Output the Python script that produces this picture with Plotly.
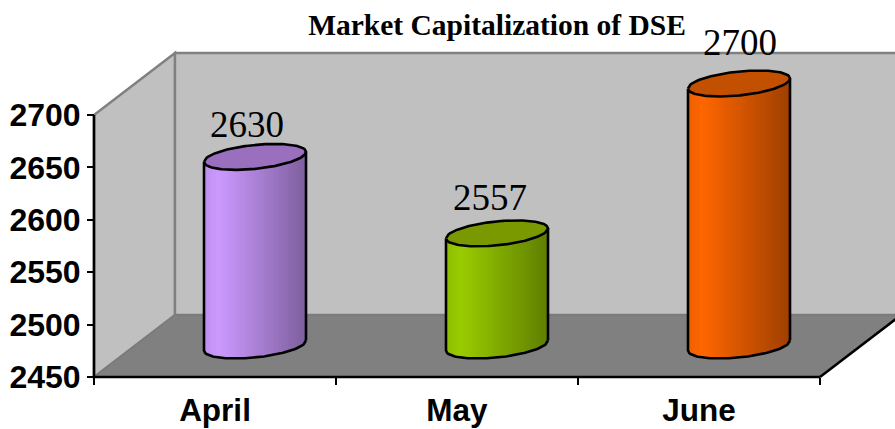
import plotly.graph_objects as go

categories = ["April", "May", "June"]
values = [2630, 2557, 2700]
y_ticks = [2450, 2500, 2550, 2600, 2650, 2700]
title = "Market Capitalization of DSE"

body_peak = ["#cc99ff", "#99cc00", "#ff6600"]
top_fill = ["#9a6fbd", "#7a9900", "#c25000"]
label_nudge_px = [(-8, 32), (-7, 36), (1, 41)]

W, H = 895, 429
X0, Y0 = 94, 377          # pixel of category 0 / value 2450
PX_X, PX_Y = 242.0, 262 / 250.0
BASE = y_ticks[0]


def dx(px):
    return (px - X0) / PX_X


def vy(py):
    return BASE + (Y0 - py) / PX_Y


DEPTH_X, DEPTH_Y = 40 / PX_X, 31.5 / PX_Y
A, B, S = 51 / PX_X, 12 / PX_Y, 5 / PX_Y
N = 34


def shade(hexc, f):
    r, g, b = int(hexc[1:3], 16), int(hexc[3:5], 16), int(hexc[5:7], 16)
    return f"rgb({r*f:.0f},{g*f:.0f},{b*f:.0f})"


def factor(t):
    if t < 0.14:
        return 0.93 + 0.07 * t / 0.14
    return 1.0 - 0.38 * (t - 0.14) / 0.86


def edge_y(t, cy, front=1):
    # t in 0..1 across the width, y of the ellipse edge at that place
    u = 2 * t - 1
    return cy + S * u - front * B * max(0.0, 1 - u * u) ** 0.5


fig = go.Figure()

for i, (cat, v) in enumerate(zip(categories, values)):
    cx = i + 0.5 + DEPTH_X
    top = v + DEPTH_Y
    bot = BASE + DEPTH_Y
    # shaded body
    for k in range(N):
        t0, t1 = k / N, (k + 1) / N
        x0, x1 = cx - A + 2 * A * t0, cx - A + 2 * A * t1
        fig.add_trace(go.Scatter(
            x=[x0, x1, x1, x0, x0],
            y=[edge_y(t0, top, -1), edge_y(t1, top, -1), edge_y(t1, bot), edge_y(t0, bot), edge_y(t0, top, -1)],
            mode="lines", fill="toself", line=dict(width=0),
            fillcolor=shade(body_peak[i], factor((t0 + t1) / 2)),
            hoverinfo="skip", showlegend=False))
    M = 80
    ts = [j / M for j in range(M + 1)]
    # outline of the sides and front arc
    fig.add_trace(go.Scatter(
        x=[cx - A + 2 * A * t for t in ts[::-1]] + [cx - A],
        y=[edge_y(t, bot) for t in ts[::-1]] + [edge_y(0, top)],
        mode="lines", line=dict(color="black", width=2.6), hoverinfo="skip", showlegend=False))
    fig.add_trace(go.Scatter(
        x=[cx + A, cx + A], y=[edge_y(1, bot), edge_y(1, top)],
        mode="lines", line=dict(color="black", width=2.6), hoverinfo="skip", showlegend=False))
    # top ellipse
    fig.add_trace(go.Scatter(
        x=[cx - A + 2 * A * t for t in ts] + [cx - A + 2 * A * t for t in ts[::-1]],
        y=[edge_y(t, top, -1) for t in ts] + [edge_y(t, top, 1) for t in ts[::-1]],
        mode="lines", fill="toself", fillcolor=top_fill[i],
        line=dict(color="black", width=2.6), name=cat, showlegend=False))
    fig.add_annotation(x=cx, y=top, text=str(v), showarrow=False,
                       xshift=label_nudge_px[i][0], yshift=label_nudge_px[i][1],
                       yanchor="middle", xanchor="center",
                       font=dict(family="Liberation Serif", size=37, color="black"))


def poly(pts):
    return "M " + " L ".join(f"{dx(x):.4f},{vy(y):.3f}" for x, y in pts) + " Z"


shapes = [
    dict(type="path", path=poly([(94, 115), (175, 53), (175, 315), (94, 377)]),
         fillcolor="#c0c0c0", line=dict(color="#808080", width=2.4), layer="below"),
    dict(type="path", path=poly([(175, 53), (897, 53), (897, 315), (175, 315)]),
         fillcolor="#c0c0c0", line=dict(color="#808080", width=2.4), layer="below"),
    dict(type="path", path=poly([(94, 377), (175, 315), (897, 315), (897, 319), (820, 377)]),
         fillcolor="#808080", line=dict(color="#777777", width=1), layer="below"),
]
for (a, b) in [((94, 115), (94, 377)), ((94, 377), (820, 377)), ((820, 377), (897, 318))]:
    shapes.append(dict(type="line", x0=dx(a[0]), y0=vy(a[1]), x1=dx(b[0]), y1=vy(b[1]),
                       line=dict(color="black", width=2.6), layer="below"))

fig.update_layout(
    width=W, height=H, margin=dict(l=0, r=0, t=0, b=0),
    paper_bgcolor="white", plot_bgcolor="white", autosize=False, showlegend=False,
    shapes=shapes,
    title=dict(text=title, x=497 / W, xanchor="center", y=1 - 25 / H, yanchor="middle",
               font=dict(family="Liberation Serif", size=29.5, color="black", weight=700)),
    xaxis=dict(
        range=[dx(0), dx(W)], domain=[0, 1], anchor="free", position=(H - Y0) / H,
        tickmode="array", tickvals=[i + 0.5 for i in range(len(categories))], ticktext=categories,
        ticks="", ticklabelstandoff=11, showline=False, showgrid=False, zeroline=False,
        tickfont=dict(family="Liberation Sans", size=31.5, color="black", weight=700),
        minor=dict(tickmode="array", tickvals=list(range(len(categories) + 1)),
                   ticks="outside", ticklen=7, tickwidth=2.4, tickcolor="black", showgrid=False),
    ),
    yaxis=dict(
        range=[vy(H), vy(0)], domain=[0, 1], anchor="free", position=X0 / W,
        tickmode="array", tickvals=y_ticks, ticktext=[str(t) for t in y_ticks],
        ticks="outside", ticklen=7, tickwidth=2.4, tickcolor="black",
        showline=False, showgrid=False, zeroline=False,
        tickfont=dict(family="Liberation Sans", size=32, color="black", weight=700),
    ),
)

fig.write_html("out.html", config={"displayModeBar": False},
               post_script="document.body.style.margin='0';document.body.style.overflow='hidden';")
